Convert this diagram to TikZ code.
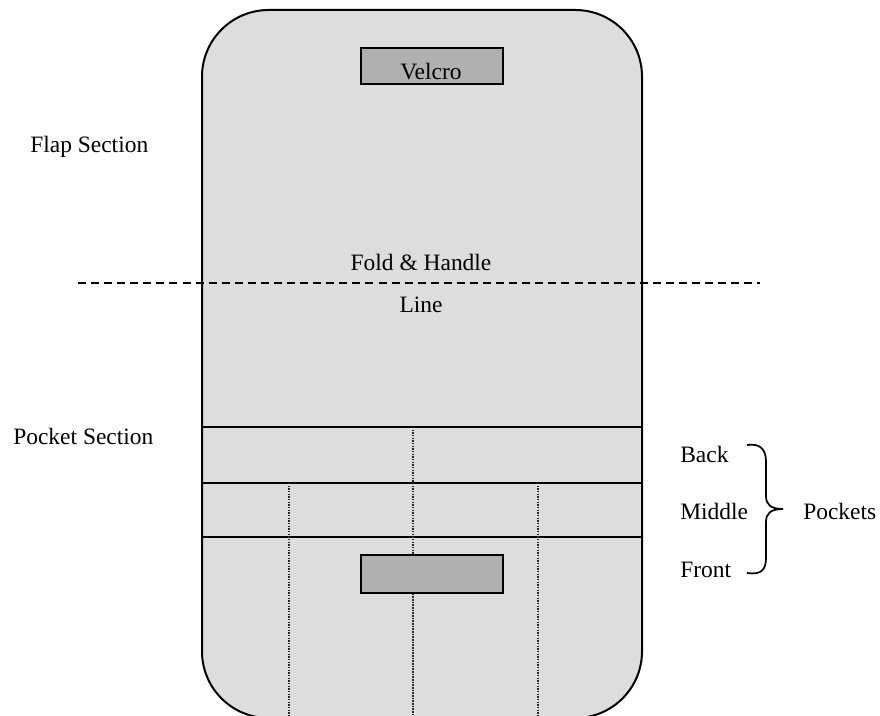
\documentclass[tikz,border=0pt]{standalone}
\usepackage{fontspec}
\setmainfont{Liberation Serif}
\definecolor{bagfill}{RGB}{221,221,221}
\definecolor{velfill}{RGB}{176,176,176}
\begin{document}
\begin{tikzpicture}[x=0.75pt,y=-0.75pt,
  every node/.style={font=\fontsize{17.6}{21}\selectfont, inner sep=0pt},
  bag/.style={draw=black, fill=bagfill, line width=1.5pt, rounded corners=50pt},
  velbox/.style={draw=black, fill=velfill, line width=1.3pt},
  seam/.style={draw=black, line width=1.3pt},
  stitch/.style={draw=black!85, line width=1pt, dash pattern=on 1.1pt off 0.9pt},
  foldline/.style={draw=black, line width=1pt, dash pattern=on 6pt off 3.8pt},
  bracestyle/.style={draw=black, line width=1.3pt}]
\useasboundingbox (0,0) rectangle (880,716);
% bag body
\path[bag] (202,10) rectangle (642,718);
% pocket seams
\coordinate (s1l) at (202,427); \coordinate (s1r) at (642,427);
\coordinate (s2l) at (202,483); \coordinate (s2r) at (642,483);
\coordinate (s3l) at (202,537); \coordinate (s3r) at (642,537);
\draw[seam] (s1l) -- (s1r);
\draw[seam] (s2l) -- (s2r);
\draw[seam] (s3l) -- (s3r);
% velcro boxes
\node[velbox, minimum width=142*0.75pt, minimum height=36*0.75pt, anchor=north west] (velTop) at (360,47) {};
\node[velbox, minimum width=142*0.75pt, minimum height=38*0.75pt, anchor=north west] (velBot) at (360,554) {};
\node[anchor=base] (velTxt) at (431,80) {Velcro};
% stitching lines
\coordinate (c1) at (413,427); \coordinate (c2) at (413,716);
\coordinate (l1) at (289,483); \coordinate (l2) at (289,716);
\coordinate (r1) at (538,483); \coordinate (r2) at (538,716);
\draw[stitch] (c1) -- (velBot.north -| c1);
\draw[stitch] (velBot.south -| c1) -- (c2);
\draw[stitch] (l1) -- (l2);
\draw[stitch] (r1) -- (r2);
% fold line
\coordinate (fa) at (78,283); \coordinate (fb) at (760,283);
\draw[foldline] (fa) -- (fb);
\node[anchor=base] (fold) at (421,271) {Fold \& Handle};
\node[anchor=base] (line) at (421,312) {Line};
% section labels
\node[anchor=base west] (flap) at (30,153) {Flap Section};
\node[anchor=base west] (pocket) at (13,444) {Pocket Section};
% pocket labels
\node[anchor=base west] (back) at (680,462) {Back};
\node[anchor=base west] (middle) at (680,519) {Middle};
\node[anchor=base west] (front) at (680,577) {Front};
\node[anchor=base west] (pockets) at (803,519) {Pockets};
% brace
\draw[bracestyle] (747,445) .. controls (761,443) and (766,450) .. (766,462) -- (766,496)
  .. controls (766,505) and (771,509) .. (783,509)
  .. controls (771,509) and (766,513) .. (766,522) -- (766,558)
  .. controls (766,570) and (761,575) .. (747,573);
\end{tikzpicture}
\end{document}
